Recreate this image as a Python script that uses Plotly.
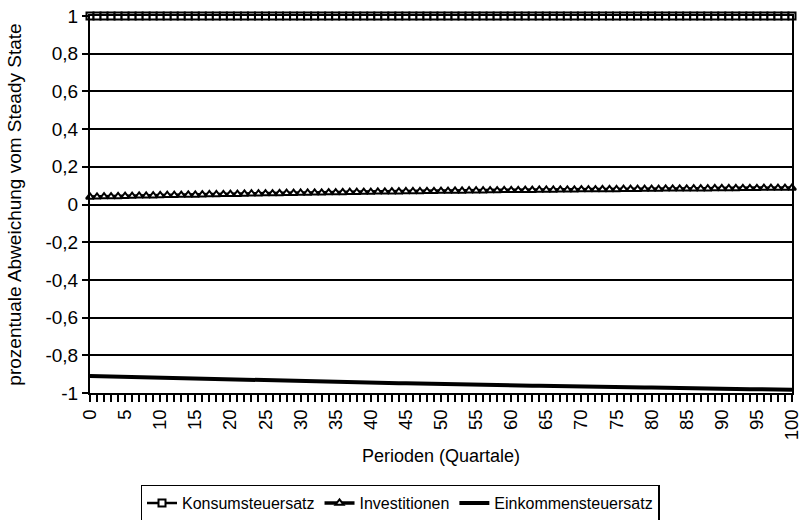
import plotly.graph_objects as go

perioden = list(range(101))

konsumsteuersatz = [1.0] * 101

investitionen = [
    0.040, 0.041, 0.042, 0.042, 0.043, 0.044, 0.045, 0.046, 0.046, 0.047, 0.048,
    0.049, 0.049, 0.050, 0.051, 0.051, 0.052, 0.053, 0.053, 0.054, 0.055,
    0.055, 0.056, 0.057, 0.057, 0.058, 0.058, 0.059, 0.060, 0.060, 0.061,
    0.061, 0.062, 0.062, 0.063, 0.063, 0.064, 0.065, 0.065, 0.066, 0.066,
    0.067, 0.067, 0.068, 0.068, 0.069, 0.069, 0.069, 0.070, 0.070, 0.071,
    0.071, 0.072, 0.072, 0.073, 0.073, 0.073, 0.074, 0.074, 0.075, 0.075,
    0.075, 0.076, 0.076, 0.077, 0.077, 0.077, 0.078, 0.078, 0.078, 0.079,
    0.079, 0.079, 0.080, 0.080, 0.080, 0.081, 0.081, 0.081, 0.082, 0.082,
    0.082, 0.083, 0.083, 0.083, 0.083, 0.084, 0.084, 0.084, 0.085, 0.085,
    0.085, 0.085, 0.086, 0.086, 0.086, 0.087, 0.087, 0.087, 0.087, 0.088,
]

einkommensteuersatz = [
    -0.910, -0.911, -0.912, -0.913, -0.914, -0.915, -0.916, -0.917, -0.918, -0.919, -0.920,
    -0.921, -0.922, -0.923, -0.924, -0.925, -0.925, -0.926, -0.927, -0.928, -0.929,
    -0.930, -0.931, -0.932, -0.932, -0.933, -0.934, -0.935, -0.936, -0.936, -0.937,
    -0.938, -0.939, -0.940, -0.940, -0.941, -0.942, -0.943, -0.943, -0.944, -0.945,
    -0.946, -0.946, -0.947, -0.948, -0.948, -0.949, -0.950, -0.951, -0.951, -0.952,
    -0.953, -0.953, -0.954, -0.955, -0.955, -0.956, -0.957, -0.957, -0.958, -0.959,
    -0.959, -0.960, -0.961, -0.961, -0.962, -0.963, -0.963, -0.964, -0.965, -0.965,
    -0.966, -0.967, -0.967, -0.968, -0.968, -0.969, -0.970, -0.970, -0.971, -0.971,
    -0.972, -0.973, -0.973, -0.974, -0.974, -0.975, -0.976, -0.976, -0.977, -0.977,
    -0.978, -0.978, -0.979, -0.980, -0.980, -0.981, -0.981, -0.982, -0.982, -0.983,
]

y_tickvals = [1, 0.8, 0.6, 0.4, 0.2, 0, -0.2, -0.4, -0.6, -0.8, -1]
y_ticktext = ["1", "0,8", "0,6", "0,4", "0,2", "0", "-0,2", "-0,4", "-0,6", "-0,8", "-1"]
x_tickvals = list(range(0, 101, 5))
x_ticktext = [str(v) for v in x_tickvals]

FONT = "Liberation Sans, Arial, sans-serif"

fig = go.Figure()
fig.add_trace(go.Scatter(
    x=perioden, y=konsumsteuersatz, name="Konsumsteuersatz", mode="lines+markers",
    line=dict(color="black", width=2.5),
    marker=dict(symbol="square", size=7, color="white", line=dict(color="black", width=2)),
    cliponaxis=False,
))
fig.add_trace(go.Scatter(
    x=perioden, y=investitionen, name="Investitionen", mode="lines+markers",
    line=dict(color="black", width=3.5),
    marker=dict(symbol="triangle-up", size=7, color="white", line=dict(color="black", width=2)),
    cliponaxis=False,
))
fig.add_trace(go.Scatter(
    x=perioden, y=einkommensteuersatz, name="Einkommensteuersatz", mode="lines",
    line=dict(color="black", width=4),
    cliponaxis=False,
))

fig.update_layout(
    width=803, height=520,
    margin=dict(l=90, r=11, t=16, b=127, autoexpand=False),
    paper_bgcolor="white", plot_bgcolor="white",
    font=dict(family=FONT, color="black", size=16),
    showlegend=True,
    legend=dict(
        orientation="h", x=0.4416, xanchor="center", y=-0.243, yanchor="top",
        bordercolor="black", borderwidth=1.5, font=dict(size=16),
        itemwidth=30, tracegroupgap=0,
    ),
    xaxis=dict(
        range=[0, 100], tickmode="array", tickvals=x_tickvals, ticktext=x_ticktext,
        tickangle=-90, ticks="outside", ticklen=7, tickwidth=2, tickcolor="black",
        minor=dict(dtick=1, tick0=0, ticks="outside", ticklen=7, tickwidth=1.5, tickcolor="black", showgrid=False),
        showline=True, linecolor="black", linewidth=2, mirror=True,
        showgrid=False, zeroline=False, tickfont=dict(size=18.5),
    ),
    yaxis=dict(
        range=[-1, 1], tickmode="array", tickvals=y_tickvals, ticktext=y_ticktext,
        ticks="outside", ticklen=6, tickwidth=2, tickcolor="black",
        showline=True, linecolor="black", linewidth=2, mirror=True,
        showgrid=True, gridcolor="black", gridwidth=2,
        zeroline=True, zerolinecolor="black", zerolinewidth=2,
        tickfont=dict(size=19),
        title=dict(text="prozentuale Abweichung vom Steady State", font=dict(size=19), standoff=19),
    ),
    annotations=[
        dict(
            text="Perioden (Quartale)", xref="paper", yref="paper", x=0.5, y=-0.168,
            xanchor="center", yanchor="middle", showarrow=False, font=dict(size=18),
        ),
    ],
)

fig.write_html(
    "out.html",
    config={"displayModeBar": False},
    post_script="document.body.style.margin='0';document.body.style.overflow='hidden';",
)
